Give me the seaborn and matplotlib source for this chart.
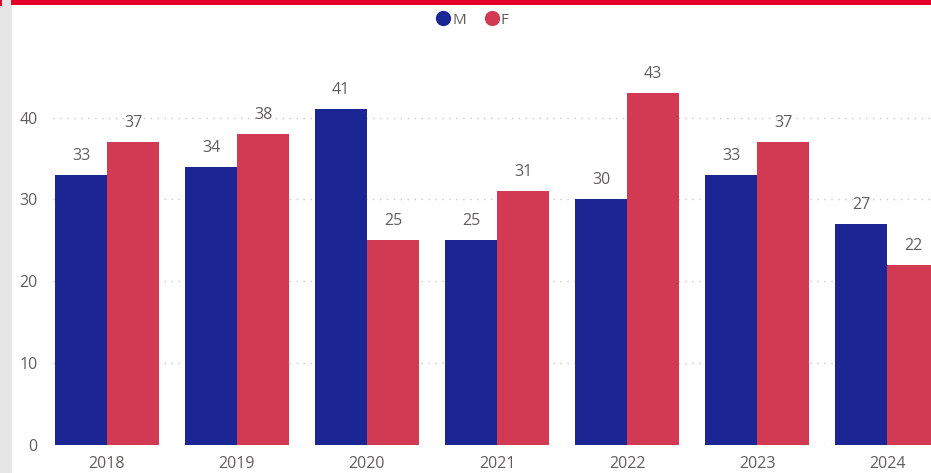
import numpy as np
import pandas as pd
import matplotlib
matplotlib.use("Agg")
import matplotlib.pyplot as plt
from matplotlib.patches import Rectangle
from matplotlib.lines import Line2D
import seaborn as sns

years = ["2018", "2019", "2020", "2021", "2022", "2023", "2024"]
male = [33, 34, 41, 25, 30, 33, 27]
female = [37, 38, 25, 31, 43, 37, 22]

sns.set_style("white")
plt.rcParams["font.family"] = ["Open Sans", "DejaVu Sans"]

blue = "#1B2594"
red = "#D13A52"
grey_text = "#605E5C"

df = pd.DataFrame({
    "year": years * 2,
    "value": male + female,
    "sex": ["M"] * len(years) + ["F"] * len(years),
})

W, H = 931, 473
fig = plt.figure(figsize=(W / 100, H / 100), dpi=100)
fig.patch.set_facecolor("white")

# frame decorations
fig.patches.append(Rectangle((0, 0), 12 / W, 1, transform=fig.transFigure,
                             facecolor="#E6E6E6", edgecolor="none", zorder=0))
fig.patches.append(Rectangle((11 / W, 1 - 5 / H), 1, 5 / H, transform=fig.transFigure,
                             facecolor="#E4002B", edgecolor="none", zorder=0))
fig.patches.append(Rectangle((0, 1 - 6 / H), 2 / W, 6 / H, transform=fig.transFigure,
                             facecolor="#E4002B", edgecolor="none", zorder=0))

left, right, top, bottom = 53, 931, 52, 445
ax = fig.add_axes([left / W, 1 - bottom / H, (right - left) / W, (bottom - top) / H])

sns.barplot(data=df, x="year", y="value", hue="sex", palette={"M": blue, "F": red},
            saturation=1, width=0.8, linewidth=0, ax=ax, legend=False, zorder=3)

for c in ax.containers:
    ax.bar_label(c, padding=8, fontsize=11.5, color=grey_text)

ax.set_xlim(-0.415, 6.338)
ax.set_ylim(0, 48)
ax.set_yticks([0, 10, 20, 30, 40])
ax.yaxis.grid(True, linestyle=(0, (1, 4)), color="#C8C8C8", linewidth=1, zorder=0)
ax.xaxis.grid(False)
sns.despine(ax=ax, left=True, bottom=True)
ax.tick_params(axis="both", length=0, labelsize=11.5, labelcolor=grey_text)
ax.tick_params(axis="y", pad=11)
ax.tick_params(axis="x", pad=8)
ax.set_xlabel("")
ax.set_ylabel("")
ax.set_facecolor("none")

handles = [Line2D([], [], marker="o", linestyle="none", markersize=11, markerfacecolor=blue,
                  markeredgecolor="none"),
           Line2D([], [], marker="o", linestyle="none", markersize=11, markerfacecolor=red,
                  markeredgecolor="none")]
fig.legend(handles, ["M", "F"], loc="center", bbox_to_anchor=(472 / W, 1 - 20 / H), ncol=2,
           frameon=False, fontsize=11, labelcolor=grey_text, handletextpad=0.1,
           columnspacing=1.2, handlelength=1.0)

fig.savefig("out.png", dpi=100)
